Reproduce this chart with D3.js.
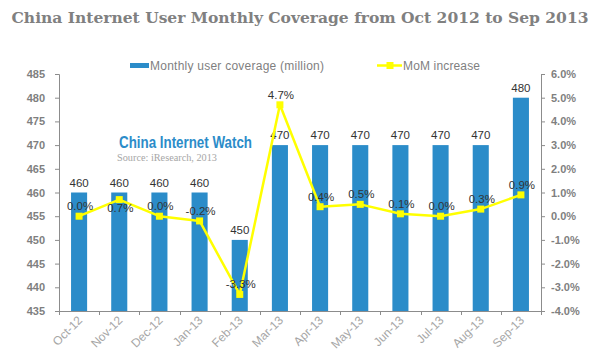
<!DOCTYPE html>
<html><head><meta charset="utf-8">
<script src="https://cdn.jsdelivr.net/npm/d3@7"></script>
<style>
html,body{margin:0;padding:0;background:#fff;}
svg{display:block;}
</style></head>
<body>
<svg id="chart" width="600" height="361"></svg>
<script>
const months = ["Oct-12","Nov-12","Dec-12","Jan-13","Feb-13","Mar-13","Apr-13","May-13","Jun-13","Jul-13","Aug-13","Sep-13"];
const coverage = [460,460,460,460,450,470,470,470,470,470,470,480];
const momIncrease = [0.0,0.7,0.0,-0.2,-3.3,4.7,0.4,0.5,0.1,0.0,0.3,0.9];
const leftTicks = [435,440,445,450,455,460,465,470,475,480,485];
const rightTicks = [-4,-3,-2,-1,0,1,2,3,4,5,6];

const svg = d3.select("#chart");
const L = 59, R = 541, T = 74, B = 311;
const axisColor = "#8c8c8c";
const barColor = "#2b8cc9";
const lineColor = "#ffff00";
const sans = "'Liberation Sans', Arial, sans-serif";

const x = d3.scaleBand().domain(months).range([L, R]).paddingInner(0).paddingOuter(0);
const yL = d3.scaleLinear().domain([435, 485]).range([B, T]);
const yR = d3.scaleLinear().domain([-4, 6]).range([B, T]);

// Title
svg.append("text").attr("x", 300).attr("y", 23).attr("text-anchor", "middle")
  .attr("font-family", "'DejaVu Serif', Georgia, serif").attr("font-weight", "bold")
  .attr("font-size", 15.5).attr("fill", "#808080")
  .text("China Internet User Monthly Coverage from Oct 2012 to Sep 2013");

// Bars
const bw = x.bandwidth() * 0.4;
svg.append("g").selectAll("rect").data(coverage).join("rect")
  .attr("x", (d, i) => x(months[i]) + x.bandwidth() / 2 - bw / 2)
  .attr("y", d => yL(d))
  .attr("width", bw)
  .attr("height", d => B - yL(d))
  .attr("fill", barColor);

// Left axis
const gL = svg.append("g").attr("transform", `translate(${L},0)`)
  .call(d3.axisLeft(yL).tickValues(leftTicks).tickSize(4).tickPadding(10).tickFormat(d3.format("d")));
gL.select(".domain").attr("stroke", axisColor);
gL.selectAll(".tick line").attr("stroke", axisColor);
gL.selectAll("text").attr("font-family", sans).attr("font-weight", "bold").attr("font-size", 11).attr("fill", "#7f7f7f");

// Right axis
const gR = svg.append("g").attr("transform", `translate(${R},0)`)
  .call(d3.axisRight(yR).tickValues(rightTicks).tickSize(4).tickPadding(6).tickFormat(d => d.toFixed(1) + "%"));
gR.select(".domain").attr("stroke", axisColor);
gR.selectAll(".tick line").attr("stroke", axisColor);
gR.selectAll("text").attr("font-family", sans).attr("font-weight", "bold").attr("font-size", 11).attr("fill", "#7f7f7f");

// Bottom axis: baseline + ticks at band boundaries
const gB = svg.append("g");
gB.append("line").attr("x1", L).attr("x2", R).attr("y1", B + 0.5).attr("y2", B + 0.5).attr("stroke", axisColor);
const bounds = months.map(m => x(m)).concat([R]);
gB.selectAll("line.tk").data(bounds).join("line").attr("class", "tk")
  .attr("x1", d => Math.round(d) + 0.5).attr("x2", d => Math.round(d) + 0.5)
  .attr("y1", B).attr("y2", B + 4).attr("stroke", axisColor);
gB.selectAll("text").data(months).join("text")
  .attr("transform", d => `translate(${x(d) + x.bandwidth() / 2 + 4},${B + 10}) rotate(-45)`)
  .attr("text-anchor", "end").attr("font-family", sans).attr("font-size", 12)
  .attr("fill", "#a6a6a6").text(d => d);

// Bar value labels
const barLabelY = d => yL(d) - 6;
svg.append("g").selectAll("text").data(coverage).join("text")
  .attr("x", (d, i) => x(months[i]) + x.bandwidth() / 2)
  .attr("y", d => barLabelY(d))
  .attr("text-anchor", "middle").attr("font-family", sans).attr("font-size", 11.5)
  .attr("fill", "#333").text(d => d);

// Line
const cx = i => x(months[i]) + x.bandwidth() / 2;
const line = d3.line().x((d, i) => cx(i)).y(d => yR(d));
svg.append("path").datum(momIncrease).attr("d", line)
  .attr("fill", "none").attr("stroke", lineColor).attr("stroke-width", 2.5).attr("stroke-linejoin", "round");
const ms = 7;
svg.append("g").selectAll("rect").data(momIncrease).join("rect")
  .attr("x", (d, i) => cx(i) - ms / 2).attr("y", d => yR(d) - ms / 2)
  .attr("width", ms).attr("height", ms).attr("fill", lineColor);

// Line labels (placed above, or below if colliding with bar label)
svg.append("g").selectAll("text").data(momIncrease).join("text")
  .attr("x", (d, i) => cx(i) + 1)
  .attr("y", (d, i) => {
    const above = yR(d) - 6;
    const barLbl = barLabelY(coverage[i]);
    return Math.abs(above - barLbl) < 12 ? yR(d) + 12 : above;
  })
  .attr("text-anchor", "middle").attr("font-family", sans).attr("font-size", 11.5)
  .attr("fill", "#333").text(d => d.toFixed(1) + "%");

// Legend
const lg = svg.append("g");
lg.append("rect").attr("x", 130).attr("y", 63).attr("width", 19).attr("height", 5).attr("fill", barColor);
lg.append("text").attr("x", 150).attr("y", 69.5).attr("font-family", sans).attr("font-size", 12)
  .attr("fill", "#7f7f7f").attr("textLength", 174).attr("lengthAdjust", "spacing")
  .text("Monthly user coverage (million)");
lg.append("line").attr("x1", 377).attr("x2", 402).attr("y1", 65.5).attr("y2", 65.5)
  .attr("stroke", lineColor).attr("stroke-width", 2.5);
lg.append("rect").attr("x", 386.5).attr("y", 62).attr("width", 7).attr("height", 7).attr("fill", lineColor);
lg.append("text").attr("x", 403).attr("y", 69.5).attr("font-family", sans).attr("font-size", 12)
  .attr("fill", "#7f7f7f").attr("textLength", 77).attr("lengthAdjust", "spacing")
  .text("MoM increase");

// Watermark
svg.append("text").attr("x", 119).attr("y", 148).attr("font-family", "'Liberation Sans Narrow', 'Arial Narrow', sans-serif")
  .attr("font-weight", "bold").attr("font-size", 17).attr("fill", "#2b8cc9")
  .attr("textLength", 133).attr("lengthAdjust", "spacingAndGlyphs")
  .text("China Internet Watch");
svg.append("text").attr("x", 117).attr("y", 161).attr("font-family", "'Liberation Serif', 'Times New Roman', serif")
  .attr("font-size", 11).attr("fill", "#a6a6a6")
  .attr("textLength", 100).attr("lengthAdjust", "spacingAndGlyphs")
  .text("Source: iResearch, 2013");
</script>
</body></html>
